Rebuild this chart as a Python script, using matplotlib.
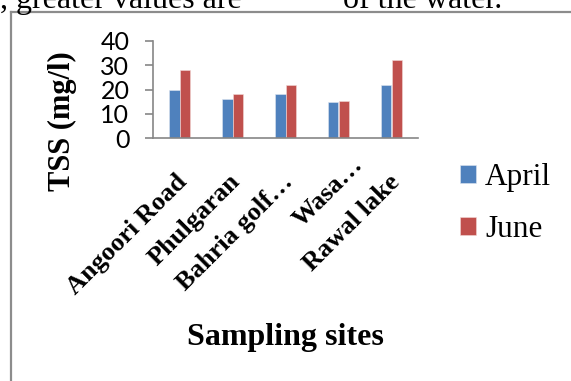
import numpy as np
import matplotlib.pyplot as plt
import matplotlib.transforms as mtransforms
from matplotlib.lines import Line2D

sites = ['Angoori Road', 'Phulgaran', 'Bahria golf\u2026', 'Wasa\u2026', 'Rawal lake']
april = [20, 16, 18, 14.7, 22]
june = [28, 18, 22, 15.3, 32]
yticks = [0, 10, 20, 30, 40]

BLUE = '#4F81BD'
RED = '#C0504D'
GRID = '#868686'

fig = plt.figure(figsize=(5.71, 3.81), dpi=100)

# surrounding text and frame of the page
fig.text(0.0, 1 - 8 / 381, ', greater values are', family='Liberation Serif',
         fontsize=23, ha='left', va='baseline')
fig.text(343 / 571, 1 - 8 / 381, 'of the water.', family='Liberation Serif',
         fontsize=23, ha='left', va='baseline')
fig.add_artist(Line2D([11 / 571, 1.0], [1 - 12 / 381, 1 - 12 / 381],
                      color='#8c8c8c', lw=1.6, transform=fig.transFigure))
fig.add_artist(Line2D([11 / 571, 11 / 571], [0.0, 1 - 12 / 381],
                      color='#8c8c8c', lw=1.6, transform=fig.transFigure))

ax = fig.add_axes([153 / 571, 1 - 138 / 381, 265 / 571, 97 / 381])

x = np.arange(len(sites))
w = 0.19
ax.bar(x - w / 2, april, w, color=BLUE, edgecolor='#dfe6f0', linewidth=0.4, label='April')
ax.bar(x + w / 2, june, w, color=RED, edgecolor='#f2d8d7', linewidth=0.4, label='June')

ax.set_xlim(-0.5, len(sites) - 0.5)
ax.set_ylim(0, 40)
ax.set_yticks(yticks)
ax.set_yticklabels([str(v) for v in yticks], family='Lato', fontsize=18)
ax.tick_params(axis='y', length=6, width=1.2, color=GRID, pad=11)
ax.tick_params(axis='x', length=0, pad=0)

ax.set_xticks(x)
ax.set_xticklabels(sites, rotation=45, rotation_mode='anchor', ha='right', va='center',
                   family='Liberation Serif', fontweight='bold', fontsize=19)
shift = [(3, -29), (3, -29), (3, -29), (15, -17), (3, -29)]
for lab, (dx, dy) in zip(ax.get_xticklabels(), shift):
    lab.set_transform(lab.get_transform() +
                      mtransforms.ScaledTranslation(dx / 72, dy / 72, fig.dpi_scale_trans))

for s in ['top', 'right']:
    ax.spines[s].set_visible(False)
for s in ['left', 'bottom']:
    ax.spines[s].set_color(GRID)
    ax.spines[s].set_linewidth(1.2)

ax.set_ylabel('TSS (mg/l)', family='Liberation Serif', fontweight='bold', fontsize=22)
ax.yaxis.set_label_coords(-0.285, 0.175)

fig.text(285 / 571, 1 - 338 / 381, 'Sampling sites', family='Liberation Serif',
         fontweight='bold', fontsize=23, ha='center', va='center')

fig.legend(loc='upper left', bbox_to_anchor=(460 / 571, 1 - 163 / 381), frameon=False,
           prop={'family': 'Liberation Serif', 'size': 22.5},
           handlelength=0.5, handleheight=0.5, handletextpad=0.3, labelspacing=0.75,
           borderaxespad=0, borderpad=0)

fig.savefig('out.png', dpi=100)
